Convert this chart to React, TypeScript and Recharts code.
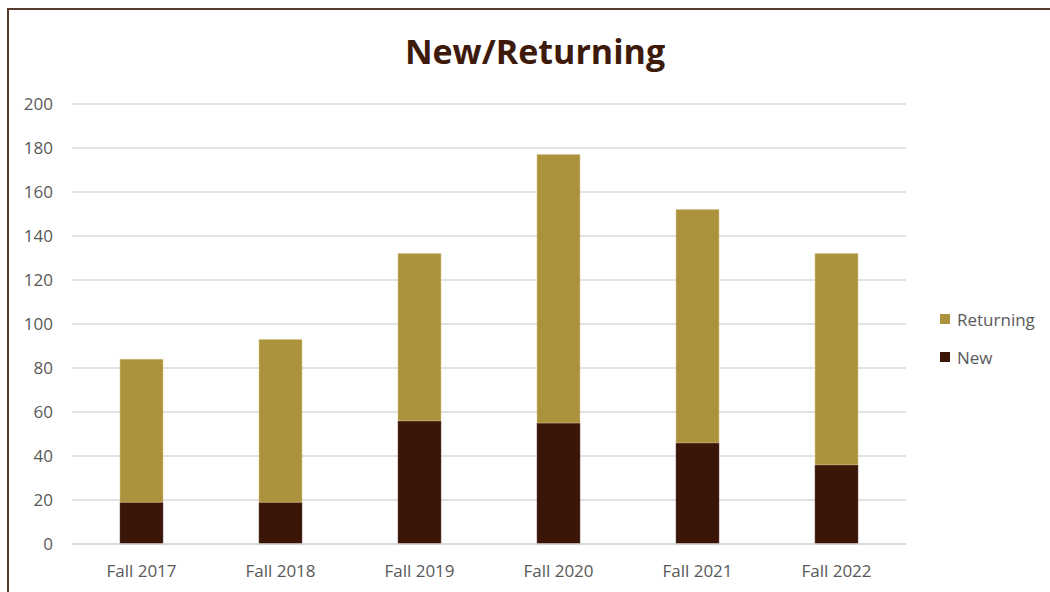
import React from 'react';
import { BarChart, Bar, XAxis, YAxis, CartesianGrid } from 'recharts';

const terms = ['Fall 2017', 'Fall 2018', 'Fall 2019', 'Fall 2020', 'Fall 2021', 'Fall 2022'];
const newStudents = [19, 19, 56, 55, 46, 36];
const returningStudents = [65, 74, 76, 122, 106, 96];
const yTicks = [0, 20, 40, 60, 80, 100, 120, 140, 160, 180, 200];

const data = terms.map((term, i) => ({
  term,
  New: newStudents[i],
  Returning: returningStudents[i],
}));

const FONT = '"Open Sans", "Noto Sans", sans-serif';
const GOLD = '#ad923e';
const BROWN = '#3a1508';

// legend lists Returning above New, same as the stack order
const legendItems = [
  { name: 'Returning', color: GOLD },
  { name: 'New', color: BROWN },
];

export default function App() {
  return (
    <div style={{ position: 'absolute', left: 0, top: 0, width: 1050, height: 592, overflow: 'hidden', background: '#fff' }}>
      <div
        style={{
          position: 'absolute',
          left: 7,
          top: 8,
          width: 1060,
          height: 620,
          border: '2px solid #5a3a2e',
          boxSizing: 'border-box',
        }}
      />
      <div
        style={{
          position: 'absolute',
          left: 0,
          width: 1070,
          top: 28,
          textAlign: 'center',
          fontFamily: FONT,
          fontWeight: 700,
          fontSize: 34,
          color: '#3d1a0a',
        }}
      >
        New/Returning
      </div>
      <div style={{ position: 'absolute', left: 0, top: 0 }}>
        <BarChart
          width={1050}
          height={592}
          data={data}
          margin={{ top: 104, right: 144, left: 12, bottom: 18 }}
          barCategoryGap={48}
        >
          <CartesianGrid stroke="#d9d9d9" strokeWidth={1.5} vertical={false} />
          <XAxis
            dataKey="term"
            height={30}
            axisLine={{ stroke: '#d9d9d9', strokeWidth: 1.5 }}
            tickLine={false}
            tickSize={0}
            tickMargin={21}
            tick={{ fill: '#595959', fontSize: 17, fontFamily: FONT }}
          />
          <YAxis
            width={60}
            domain={[0, 200]}
            ticks={yTicks}
            axisLine={false}
            tickLine={false}
            tickSize={0}
            tickMargin={19}
            tick={{ fill: '#595959', fontSize: 17, fontFamily: FONT }}
          />
          <Bar dataKey="New" stackId="s" fill={BROWN} stroke="#6b4a3e" strokeWidth={0.5} isAnimationActive={false} />
          <Bar dataKey="Returning" stackId="s" fill={GOLD} stroke="#d6c48a" strokeWidth={0.5} isAnimationActive={false} />
        </BarChart>
      </div>
      <div style={{ position: 'absolute', left: 940, top: 300, fontFamily: FONT, fontSize: 17, color: '#595959' }}>
        {legendItems.map((item) => (
          <div key={item.name} style={{ display: 'flex', alignItems: 'center', height: 38 }}>
            <span style={{ width: 10, height: 10, background: item.color, marginRight: 7, display: 'inline-block' }} />
            {item.name}
          </div>
        ))}
      </div>
    </div>
  );
}
